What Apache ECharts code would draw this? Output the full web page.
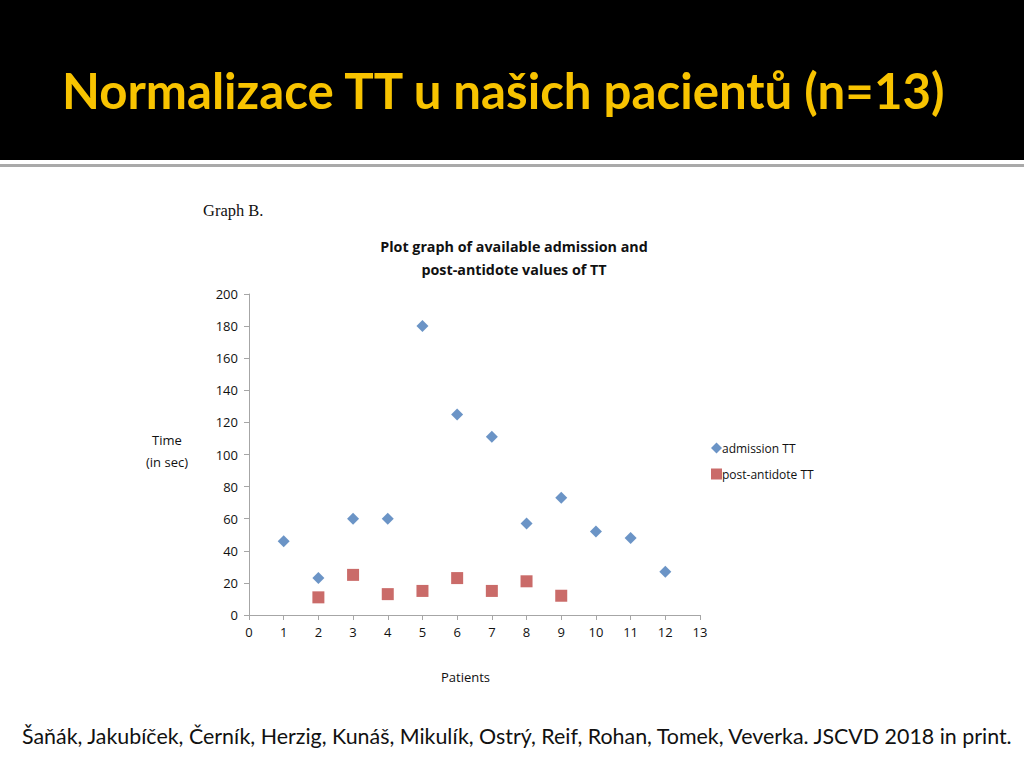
<!DOCTYPE html>
<html>
<head>
<meta charset="utf-8">
<script src="https://cdn.jsdelivr.net/npm/echarts@6/dist/echarts.min.js"></script>
<style>
	html, body { margin: 0; padding: 0; background: #fff; }
	#chartmain { width: 1024px; height: 768px; }
</style>
</head>
<body>
<div id="chartmain"></div>
<script>
var xTicks = [0, 1, 2, 3, 4, 5, 6, 7, 8, 9, 10, 11, 12, 13];
var admissionPatients = [1, 2, 3, 4, 5, 6, 7, 8, 9, 10, 11, 12];
var admissionTT = [46, 23, 60, 60, 180, 125, 111, 57, 73, 52, 48, 27];
var antidotePatients = [2, 3, 4, 5, 6, 7, 8, 9];
var antidoteTT = [11, 25, 13, 15, 23, 15, 21, 12];

function pairs(xs, ys) {
	return xs.map(function (x, i) { return [x, ys[i]]; });
}

var labelFont = '"Open Sans", sans-serif';
var axisStyle = { lineStyle: { color: '#a6a6a6', width: 1 } };

var option = {
	animation : false,
	textStyle : { fontFamily : labelFont },
	title : [ {
		text : 'Plot graph of available admission and\npost-antidote values of TT',
		left : 509,
		top : 230,
		textAlign : 'center',
		textStyle : {
			fontFamily : labelFont,
			fontSize : 14.3,
			fontWeight : 'bold',
			color : '#111',
			lineHeight : 23
		}
	} ],
	graphic : [ {
		type : 'rect',
		shape : { x : 0, y : 0, width : 1024, height : 160 },
		style : { fill : '#000' }
	}, {
		type : 'rect',
		shape : { x : 0, y : 164, width : 1024, height : 3 },
		style : { fill : '#a9a9a9' }
	}, {
		type : 'text',
		x : 62,
		y : 89,
		style : {
			text : 'Normalizace TT u našich pacientů (n=13)',
			font : 'bold 49.2px Lato, sans-serif',
			fill : '#f8c300',
			verticalAlign : 'middle'
		}
	}, {
		type : 'text',
		x : 203,
		y : 210,
		style : {
			text : 'Graph B.',
			font : '16.5px "Liberation Serif", serif',
			fill : '#111',
			verticalAlign : 'middle'
		}
	}, {
		type : 'text',
		x : 167,
		y : 451,
		style : {
			text : 'Time\n(in sec)',
			font : '13px "Open Sans", sans-serif',
			fill : '#111',
			align : 'center',
			verticalAlign : 'middle',
			lineHeight : 22
		}
	}, {
		type : 'text',
		x : 22,
		y : 736,
		style : {
			text : 'Šaňák, Jakubíček, Černík, Herzig, Kunáš, Mikulík, Ostrý, Reif, Rohan, Tomek, Veverka. JSCVD 2018 in print.',
			font : '21.4px Lato, sans-serif',
			fill : '#111',
			verticalAlign : 'middle'
		}
	} ],
	legend : {
		orient : 'vertical',
		left : 706,
		top : 437,
		itemGap : 14,
		itemWidth : 11,
		itemHeight : 11,
		textStyle : { fontFamily : labelFont, fontSize : 12, color : '#111', padding : [0, 0, 0, -5] },
		data : [ { name : 'admission TT', icon : 'diamond' }, { name : 'post-antidote TT', icon : 'rect' } ]
	},
	grid : {
		left : 249,
		right : 324,
		top : 294,
		bottom : 153
	},
	xAxis : {
		type : 'value',
		min : 0,
		max : 13,
		interval : 1,
		name : 'Patients',
		nameLocation : 'middle',
		nameGap : 55,
		nameTextStyle : { fontFamily : labelFont, fontSize : 13, color : '#111', padding : [0, 18, 0, 0] },
		axisLine : axisStyle,
		axisTick : { show : true, length : 5, lineStyle : { color : '#a6a6a6' } },
		axisLabel : { fontSize : 13, color : '#111', margin : 10, formatter : function (v) { return xTicks.indexOf(v) >= 0 ? v : ''; } },
		splitLine : { show : false }
	},
	yAxis : {
		type : 'value',
		min : 0,
		max : 200,
		interval : 20,
		axisLine : { show : true, lineStyle : { color : '#a6a6a6' } },
		axisTick : { show : true, length : 5, lineStyle : { color : '#a6a6a6' } },
		axisLabel : { fontSize : 13, color : '#111', margin : 11 },
		splitLine : { show : false }
	},
	series : [ {
		name : 'admission TT',
		type : 'scatter',
		symbol : 'diamond',
		symbolSize : 12,
		itemStyle : { color : '#4679b8' },
		data : pairs(admissionPatients, admissionTT)
	}, {
		name : 'post-antidote TT',
		type : 'scatter',
		symbol : 'rect',
		symbolSize : 12,
		itemStyle : { color : '#bd4644' },
		data : pairs(antidotePatients, antidoteTT)
	} ]
};
var myChart = echarts.init(document.getElementById('chartmain'), null, { renderer : 'svg' });
myChart.setOption(option);
</script>
</body>
</html>
